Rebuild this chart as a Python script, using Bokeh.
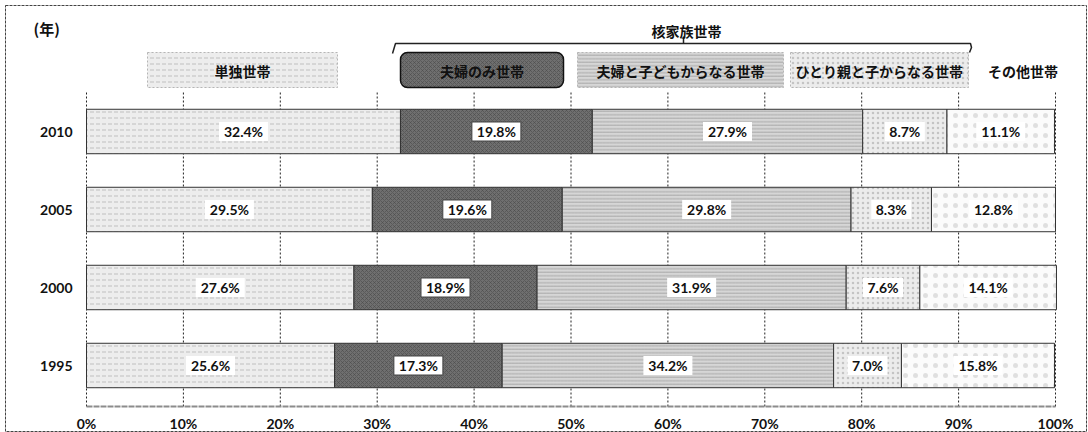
import numpy as np
from bokeh.plotting import figure
from bokeh.models import Range1d, FixedTicker, LinearAxis
from bokeh.core.properties import value
from bokeh.embed import file_html
from bokeh.resources import INLINE

# ---- data -------------------------------------------------------------
years = ["2010", "2005", "2000", "1995"]
household_types = ["単独世帯", "夫婦のみ世帯", "夫婦と子どもからなる世帯",
                   "ひとり親と子からなる世帯", "その他世帯"]
single = [32.4, 29.5, 27.6, 25.6]
couple_only = [19.8, 19.6, 18.9, 17.3]
couple_children = [27.9, 29.8, 31.9, 34.2]
single_parent = [8.7, 8.3, 7.6, 7.0]
other = [11.1, 12.8, 14.1, 15.8]
pct_ticks = [0, 10, 20, 30, 40, 50, 60, 70, 80, 90, 100]
group_title = "核家族世帯"
year_unit = "(年)"

series = [single, couple_only, couple_children, single_parent, other]

# ---- canvas geometry (pixels) -----------------------------------------
W, H = 1088, 432
X0_PX, X100_PX = 86, 1055          # 0% and 100%
ROW_PITCH = 78                     # px between year rows
LAST_ROW_PX = 365                  # centre of the bottom row
FRAME_BOTTOM_PX = 406
PX_PER_PCT = (X100_PX - X0_PX) / 100.0


def dx(px):
    return (px - X0_PX) / PX_PER_PCT


def dy(py):
    return (LAST_ROW_PX - py) / ROW_PITCH


ypos = np.arange(len(years))[::-1].astype(float)   # 2010 on top

CJK = value("Noto Sans CJK JP")
LATIN = value("Lato")

p = figure(width=W, height=H, x_range=Range1d(dx(0), dx(W)),
           y_range=Range1d(dy(H), dy(0)), output_backend="svg",
           toolbar_location=None, min_border=0,
           x_axis_location=None, y_axis_location=None)
p.grid.visible = False
p.outline_line_color = None
p.background_fill_color = "white"
p.border_fill_color = "white"

# ---- axes ---------------------------------------------------------------
axis_style = dict(major_tick_line_color=None, minor_tick_line_color=None,
                  major_tick_in=0, major_tick_out=0,
                  minor_tick_in=0, minor_tick_out=0,
                  major_label_text_font="Lato",
                  major_label_text_font_style="bold",
                  major_label_text_font_size="14px",
                  major_label_text_color="#111111")

xax = LinearAxis(fixed_location=dy(FRAME_BOTTOM_PX), bounds=(0, 100),
                 ticker=FixedTicker(ticks=pct_ticks),
                 major_label_overrides={t: f"{t}%" for t in pct_ticks},
                 axis_line_color="#8c8c8c", axis_line_width=2,
                 axis_line_dash="6 1",
                 major_label_standoff=8, **axis_style)
p.add_layout(xax, "below")

yax = LinearAxis(fixed_location=0,
                 ticker=FixedTicker(ticks=list(ypos)),
                 major_label_overrides={float(v): y for v, y in zip(ypos, years)},
                 axis_line_color=None, major_label_standoff=14, **axis_style)
p.add_layout(yax, "left")

# vertical dashed gridlines behind the bars
top_band = len(years) - 0.5
p.segment(x0=pct_ticks, x1=pct_ticks,
          y0=[dy(FRAME_BOTTOM_PX)] * len(pct_ticks),
          y1=[top_band] * len(pct_ticks),
          line_color="#222222", line_width=1, line_dash="2 2")

# ---- stacked bars -------------------------------------------------------
fills = ["#ededed", "#6f6f6f", "#d6d6d6", "#ececec", "#fbfbfb"]
hatches = ["horizontal_dash", "diagonal_cross", "horizontal_line", "dot", "dot"]
hatch_cols = ["#9a9a9a", "#474747", "#858585", "#a8a8a8", "#c4c4c4"]
hatch_scales = [6, 4, 3.5, 5, 10]
hatch_alphas = [0.8, 0.8, 0.8, 0.6, 0.5]

data = np.array(series)            # shape (5, n_years)
rights = np.cumsum(data, axis=0)
lefts = rights - data
BAR_H = 0.57

for i in range(len(series)):
    p.hbar(y=ypos, left=lefts[i], right=rights[i], height=BAR_H,
           fill_color=fills[i], hatch_pattern=hatches[i],
           hatch_color=hatch_cols[i], hatch_scale=hatch_scales[i],
           hatch_weight=0.7, hatch_alpha=hatch_alphas[i],
           line_color="#333333", line_width=1)

# value labels on white boxes
for i in range(len(series)):
    cx = (lefts[i] + rights[i]) / 2
    txt = [f"{v:.1f}%" for v in series[i]]
    widths = [9 * len(t) + 4 for t in txt]
    p.rect(x=cx, y=ypos, width=widths, height=19,
           width_units="screen", height_units="screen",
           fill_color="white",
           line_color="#444444" if i == 1 else None, line_width=1)
    p.text(x=cx, y=ypos, text=txt, text_align="center",
           text_baseline="middle", text_font=LATIN,
           text_font_style="bold", text_font_size="14px",
           text_color="#111111")

# ---- legend row ---------------------------------------------------------
leg_left = [147, 400, 577, 790, 988]
leg_right = [337, 563, 783, 968, 1057]
leg_top, leg_bottom = 52, 87
for i in range(4):
    kw = dict(left=dx(leg_left[i]), right=dx(leg_right[i]),
              top=dy(leg_top), bottom=dy(leg_bottom),
              fill_color=fills[i], hatch_pattern=hatches[i],
              hatch_color=hatch_cols[i], hatch_scale=hatch_scales[i],
              hatch_weight=0.7, hatch_alpha=hatch_alphas[i])
    if i == 1:
        p.quad(**kw, line_color="#111111", line_width=1.5, border_radius=7)
    else:
        p.quad(**kw, line_color="#b5b5b5", line_width=1, line_dash="2 2")

leg_cx = [dx((a + b) / 2) for a, b in zip(leg_left, leg_right)]
p.text(x=leg_cx, y=[dy(70)] * len(leg_cx), text=household_types,
       text_align="center", text_baseline="middle", text_font=CJK,
       text_font_style="bold", text_font_size="14px", text_color="#111111")

# bracket grouping the nuclear-family types
p.multi_line(xs=[[dx(392), dx(395), dx(970), dx(971), dx(969)],
                 [dx(683), dx(683)]],
             ys=[[dy(53), dy(43), dy(43), dy(47), dy(52)],
                 [dy(43), dy(36)]],
             line_color="#222222", line_width=1.5)
p.text(x=[dx(686)], y=[dy(30)], text=[group_title], text_align="center",
       text_baseline="middle", text_font=CJK, text_font_style="bold",
       text_font_size="14px", text_color="#111111")

p.text(x=[dx(33)], y=[dy(28)], text=[year_unit], text_align="left",
       text_baseline="middle", text_font=CJK, text_font_style="bold",
       text_font_size="15px", text_color="#111111")

# outer frame
p.quad(left=dx(5), right=dx(1086), top=dy(5), bottom=dy(431),
       fill_color=None, line_color="#444444", line_width=1, line_dash="3 1")

open("out.html", "w").write(file_html(p, INLINE))
